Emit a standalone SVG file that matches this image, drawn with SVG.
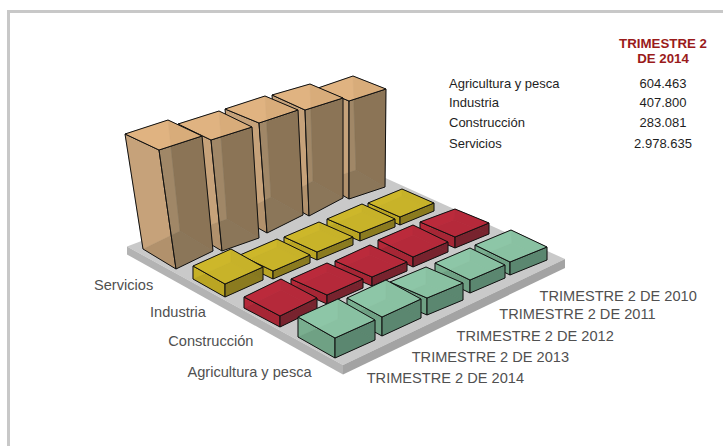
<svg xmlns="http://www.w3.org/2000/svg" width="723" height="446" viewBox="0 0 723 446">
<style>
text{font-family:"Liberation Sans",Arial,Helvetica,sans-serif}
.cat,.yr{font-size:14.6px;fill:#505050}
.tl{font-size:13px;fill:#1e1e1e}
.tv{font-size:13px;fill:#1e1e1e;text-anchor:middle}
.hd{font-size:13.3px;font-weight:bold;fill:#9a1b1b;text-anchor:middle}
.ft{fill:#c9c9c9}.fsl{fill:#b3b3b3}.fsr{fill:#a3a3a3}
polygon.bt{stroke:none}
polygon.bl,polygon.br{stroke:#000;stroke-opacity:.18;stroke-width:.8}
polygon.fl,polygon.fr,polygon.tp{stroke:#111;stroke-width:1;stroke-linejoin:round}
.s .bt{fill:#7a6246}.s .bl{fill:#c9a57c}.s .br{fill:#7a5a38}.s .fl{fill:#c4a17a;fill-opacity:.75}.s .fr{fill:#917d60;fill-opacity:.75}.s .tp{fill:#e2b582;fill-opacity:.9}
.i .bt{fill:#8a7a1c}.i .bl{fill:#c9b328}.i .br{fill:#7f7119}.i .fl{fill:#c6b026;fill-opacity:.8}.i .fr{fill:#8b7c20;fill-opacity:.8}.i .tp{fill:#cdb72a;fill-opacity:.92}
.c .bt{fill:#6e1f28}.c .bl{fill:#b8293b}.c .br{fill:#6e1f28}.c .fl{fill:#b42838;fill-opacity:.8}.c .fr{fill:#7a2430;fill-opacity:.8}.c .tp{fill:#bb2a3c;fill-opacity:.92}
.a .bt{fill:#557f68}.a .bl{fill:#86bfa0}.a .br{fill:#557f68}.a .fl{fill:#76aa8b;fill-opacity:.8}.a .fr{fill:#5d8a72;fill-opacity:.8}.a .tp{fill:#8ec7a7;fill-opacity:.92}
</style>
<rect x="0" y="0" width="723" height="446" fill="#fff"/>
<rect x="8.5" y="11.5" width="800" height="500" fill="#fff" stroke="#c8c8c8" stroke-width="3"/>

<g id="floor">
<polygon class="ft" points="127,246.5 350,162 565,259 343,365"/>
<polygon class="fsl" points="127,246.5 343,365 343,374.5 127,254.5"/>
<polygon class="fsr" points="343,365 565,259 565,268 343,374.5"/>
</g>

<g id="servicios">
<g id="servicios-2010" class="s">
<polygon class="bt" points="320,182 349,199 385,187 356,170"/>
<polygon class="bl" points="318,88 353,76 356,170 320,182"/><polygon class="br" points="353,76 386,89 385,187 356,170"/>
<polygon class="fl" points="318,88 349,101 349,199 320,182"/><polygon class="fr" points="349,101 386,89 385,187 349,199"/>
<polygon class="tp" points="318,88 353,76 386,89 349,101"/></g>
<g id="servicios-2011" class="s">
<polygon class="bt" points="279,199 309,216 343,198 313,181"/>
<polygon class="bl" points="272,95 310,84 313,181 279,199"/><polygon class="br" points="310,84 343,98 343,198 313,181"/>
<polygon class="fl" points="272,95 305,110 309,216 279,199"/><polygon class="fr" points="305,110 343,98 343,198 309,216"/>
<polygon class="tp" points="272,95 310,84 343,98 305,110"/></g>
<g id="servicios-2012" class="s">
<polygon class="bt" points="235,215 267,233 303,215 271,197"/>
<polygon class="bl" points="225,109 265,96 271,197 235,215"/><polygon class="br" points="265,96 298,110 303,215 271,197"/>
<polygon class="fl" points="225,109 259,123 267,233 235,215"/><polygon class="fr" points="259,123 298,110 303,215 267,233"/>
<polygon class="tp" points="225,109 265,96 298,110 259,123"/></g>
<g id="servicios-2013" class="s">
<polygon class="bt" points="190,232 222,251 259,238 227,219"/>
<polygon class="bl" points="178,124 219,111 227,219 190,232"/><polygon class="br" points="219,111 252,127 259,238 227,219"/>
<polygon class="fl" points="178,124 211,140 222,251 190,232"/><polygon class="fr" points="211,140 252,127 259,238 222,251"/>
<polygon class="tp" points="178,124 219,111 252,127 211,140"/></g>
<g id="servicios-2014" class="s">
<polygon class="bt" points="143,249 176,269 213,251 180,231"/>
<polygon class="bl" points="125,134 168,120 180,231 143,249"/><polygon class="br" points="168,120 202,136 213,251 180,231"/>
<polygon class="fl" points="125,134 159,150 176,269 143,249"/><polygon class="fr" points="159,150 202,136 213,251 176,269"/>
<polygon class="tp" points="125,134 168,120 202,136 159,150"/></g>
</g>

<g id="industria">
<g id="industria-2010" class="i">
<polygon class="bt" points="368,211 400,225 434,211 402,196"/>
<polygon class="bl" points="368,203 402,189 402,196 368,211"/><polygon class="br" points="402,189 434,203 434,211 402,196"/>
<polygon class="fl" points="368,203 400,217 400,225 368,211"/><polygon class="fr" points="400,217 434,203 434,211 400,225"/>
<polygon class="tp" points="368,203 402,189 434,203 400,217"/></g>
<g id="industria-2011" class="i">
<polygon class="bt" points="327,227 360,241 395,227 362,212"/>
<polygon class="bl" points="327,219 362,204 362,212 327,227"/><polygon class="br" points="362,204 395,219 395,227 362,212"/>
<polygon class="fl" points="327,219 360,233 360,241 327,227"/><polygon class="fr" points="360,233 395,219 395,227 360,241"/>
<polygon class="tp" points="327,219 362,204 395,219 360,233"/></g>
<g id="industria-2012" class="i">
<polygon class="bt" points="284,245 317,260 353,245 320,230"/>
<polygon class="bl" points="284,237 319,222 320,230 284,245"/><polygon class="br" points="319,222 353,237 353,245 320,230"/>
<polygon class="fl" points="284,237 317,252 317,260 284,245"/><polygon class="fr" points="317,252 353,237 353,245 317,260"/>
<polygon class="tp" points="284,237 319,222 353,237 317,252"/></g>
<g id="industria-2013" class="i">
<polygon class="bt" points="240,263 273,279 310,263 277,247"/>
<polygon class="bl" points="240,255 277,239 277,247 240,263"/><polygon class="br" points="277,239 310,255 310,263 277,247"/>
<polygon class="fl" points="240,255 273,271 273,279 240,263"/><polygon class="fr" points="273,271 310,255 310,263 273,279"/>
<polygon class="tp" points="240,255 277,239 310,255 273,271"/></g>
<g id="industria-2014" class="i">
<polygon class="bt" points="193,279 225,297 263,280 231,262"/>
<polygon class="bl" points="193,266 231,249 231,262 193,279"/><polygon class="br" points="231,249 263,267 263,280 231,262"/>
<polygon class="fl" points="193,266 225,284 225,297 193,279"/><polygon class="fr" points="225,284 263,267 263,280 225,297"/>
<polygon class="tp" points="193,266 231,249 263,267 225,284"/></g>
</g>

<g id="construccion">
<g id="construccion-2010" class="c">
<polygon class="bt" points="420,233 455,248 489,234 454,220"/>
<polygon class="bl" points="420,222 455,209 454,220 420,233"/><polygon class="br" points="455,209 489,223 489,234 454,220"/>
<polygon class="fl" points="420,222 455,237 455,248 420,233"/><polygon class="fr" points="455,237 489,223 489,234 455,248"/>
<polygon class="tp" points="420,222 455,209 489,223 455,237"/></g>
<g id="construccion-2011" class="c">
<polygon class="bt" points="378,250 413,267 448,252 413,235"/>
<polygon class="bl" points="378,240 413,225 413,235 378,250"/><polygon class="br" points="413,225 448,242 448,252 413,235"/>
<polygon class="fl" points="378,240 413,257 413,267 378,250"/><polygon class="fr" points="413,257 448,242 448,252 413,267"/>
<polygon class="tp" points="378,240 413,225 448,242 413,257"/></g>
<g id="construccion-2012" class="c">
<polygon class="bt" points="335,270 372,286 407,271 370,255"/>
<polygon class="bl" points="335,261 370,245 370,255 335,270"/><polygon class="br" points="370,245 407,262 407,271 370,255"/>
<polygon class="fl" points="335,261 372,277 372,286 335,270"/><polygon class="fr" points="372,277 407,262 407,271 372,286"/>
<polygon class="tp" points="335,261 370,245 407,262 372,277"/></g>
<g id="construccion-2013" class="c">
<polygon class="bt" points="291,288 327,304 363,288 327,272"/>
<polygon class="bl" points="291,279 327,263 327,272 291,288"/><polygon class="br" points="327,263 363,279 363,288 327,272"/>
<polygon class="fl" points="291,279 327,295 327,304 291,288"/><polygon class="fr" points="327,295 363,279 363,288 327,304"/>
<polygon class="tp" points="291,279 327,263 363,279 327,295"/></g>
<g id="construccion-2014" class="c">
<polygon class="bt" points="244,308 280,327 317,309 281,290"/>
<polygon class="bl" points="244,297 281,279 281,290 244,308"/><polygon class="br" points="281,279 317,298 317,309 281,290"/>
<polygon class="fl" points="244,297 280,316 280,327 244,308"/><polygon class="fr" points="280,316 317,298 317,309 280,327"/>
<polygon class="tp" points="244,297 281,279 317,298 280,316"/></g>
</g>

<g id="agricultura">
<g id="agricultura-2010" class="a">
<polygon class="bt" points="475,258 510,275 547,260 512,243"/>
<polygon class="bl" points="475,245 511,230 512,243 475,258"/><polygon class="br" points="511,230 547,247 547,260 512,243"/>
<polygon class="fl" points="475,245 510,262 510,275 475,258"/><polygon class="fr" points="510,262 547,247 547,260 510,275"/>
<polygon class="tp" points="475,245 511,230 547,247 510,262"/></g>
<g id="agricultura-2011" class="a">
<polygon class="bt" points="435,276 470,293 505,278 470,261"/>
<polygon class="bl" points="435,263 470,248 470,261 435,276"/><polygon class="br" points="470,248 505,265 505,278 470,261"/>
<polygon class="fl" points="435,263 470,280 470,293 435,276"/><polygon class="fr" points="470,280 505,265 505,278 470,293"/>
<polygon class="tp" points="435,263 470,248 505,265 470,280"/></g>
<g id="agricultura-2012" class="a">
<polygon class="bt" points="390,299 427,315 463,300 426,284"/>
<polygon class="bl" points="390,282 426,267 426,284 390,299"/><polygon class="br" points="426,267 463,283 463,300 426,284"/>
<polygon class="fl" points="390,282 427,298 427,315 390,299"/><polygon class="fr" points="427,298 463,283 463,300 427,315"/>
<polygon class="tp" points="390,282 426,267 463,283 427,298"/></g>
<g id="agricultura-2013" class="a">
<polygon class="bt" points="347,317 382,336 421,318 386,299"/>
<polygon class="bl" points="347,298 386,280 386,299 347,317"/><polygon class="br" points="386,280 421,299 421,318 386,299"/>
<polygon class="fl" points="347,298 382,317 382,336 347,317"/><polygon class="fr" points="382,317 421,299 421,318 382,336"/>
<polygon class="tp" points="347,298 386,280 421,299 382,317"/></g>
<g id="agricultura-2014" class="a">
<polygon class="bt" points="298,337 335,358 375,340 338,319"/>
<polygon class="bl" points="298,317 338,299 338,319 298,337"/><polygon class="br" points="338,299 375,320 375,340 338,319"/>
<polygon class="fl" points="298,317 335,338 335,358 298,337"/><polygon class="fr" points="335,338 375,320 375,340 335,358"/>
<polygon class="tp" points="298,317 338,299 375,320 335,338"/></g>
</g>

<g id="category-labels">
<text class="cat" x="94" y="290">Servicios</text>
<text class="cat" x="150" y="317">Industria</text>
<text class="cat" x="168.3" y="345.5">Construcción</text>
<text class="cat" x="187.5" y="377">Agricultura y pesca</text>
</g>
<g id="year-labels">
<text class="yr" x="539.5" y="301">TRIMESTRE 2 DE 2010</text>
<text class="yr" x="499.3" y="319">TRIMESTRE 2 DE 2011</text>
<text class="yr" x="456.5" y="341">TRIMESTRE 2 DE 2012</text>
<text class="yr" x="411.7" y="362">TRIMESTRE 2 DE 2013</text>
<text class="yr" x="366.7" y="383">TRIMESTRE 2 DE 2014</text>
</g>
<g id="table">
<text class="hd" x="663" y="47.7">TRIMESTRE 2</text>
<text class="hd" x="663" y="62.7">DE 2014</text>
<text class="tl" x="449" y="88">Agricultura y pesca</text><text class="tv" x="663" y="88">604.463</text>
<text class="tl" x="449" y="107">Industria</text><text class="tv" x="663" y="107">407.800</text>
<text class="tl" x="449" y="127">Construcción</text><text class="tv" x="663" y="127">283.081</text>
<text class="tl" x="449" y="147.5">Servicios</text><text class="tv" x="663" y="147.5">2.978.635</text>
</g>
</svg>
